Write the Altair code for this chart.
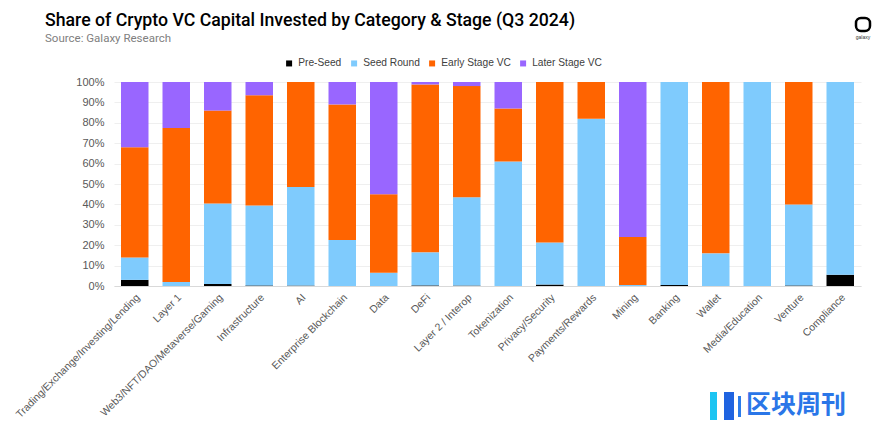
import altair as alt
import pandas as pd

categories = ["Trading/Exchange/Investing/Lending", "Layer 1", "Web3/NFT/DAO/Metaverse/Gaming",
              "Infrastructure", "AI", "Enterprise Blockchain", "Data", "DeFi", "Layer 2 / Interop",
              "Tokenization", "Privacy/Security", "Payments/Rewards", "Mining", "Banking", "Wallet",
              "Media/Education", "Venture", "Compliance"]
stages = ["Pre-Seed", "Seed Round", "Early Stage VC", "Later Stage VC"]
pre_seed = [3.0, 0.0, 1.0, 0.3, 0.2, 0.0, 0.0, 0.3, 0.2, 0.0, 0.7, 0.0, 0.0, 0.5, 0.0, 0.0, 0.3, 5.5]
seed = [11.0, 2.0, 39.5, 39.2, 48.3, 22.5, 6.5, 16.2, 43.3, 61.0, 20.6, 82.0, 0.5, 99.5, 16.0, 100.0, 39.7, 94.5]
early = [54.0, 75.5, 45.5, 54.0, 51.5, 66.5, 38.5, 82.3, 54.5, 26.0, 78.7, 18.0, 23.5, 0.0, 84.0, 0.0, 60.0, 0.0]
later = [32.0, 22.5, 14.0, 6.5, 0.0, 11.0, 55.0, 1.2, 2.0, 13.0, 0.0, 0.0, 76.0, 0.0, 0.0, 0.0, 0.0, 0.0]
colors = ["#000000", "#7FCBFD", "#FF6400", "#9966FF"]

title_text = "Share of Crypto VC Capital Invested by Category & Stage (Q3 2024)"
subtitle_text = "Source: Galaxy Research"

rows = []
for i, c in enumerate(categories):
    for j, (s, vals) in enumerate(zip(stages, [pre_seed, seed, early, later])):
        rows.append({"category": c, "stage": s, "order": j, "value": vals[i] / 100.0})
df = pd.DataFrame(rows)

base_font = "Liberation Sans"

bars = alt.Chart(df).mark_bar(size=27.5).encode(
    x=alt.X("category:N", sort=categories, title=None,
            scale=alt.Scale(paddingInner=0.34, paddingOuter=0.17),
            axis=alt.Axis(labelAngle=-45, labelFont=base_font, labelFontSize=10.5,
                          labelColor="#595959", ticks=False, domainColor="#D9D9D9",
                          labelPadding=6, labelLimit=300)),
    y=alt.Y("value:Q", stack="zero", title=None,
            scale=alt.Scale(domain=[0, 1], nice=False),
            axis=alt.Axis(format="%", values=[i / 10 for i in range(11)], labelFont=base_font,
                          labelFontSize=11, labelColor="#595959", domain=False, ticks=False,
                          gridColor="#EFEFEF", labelPadding=10)),
    color=alt.Color("stage:N", scale=alt.Scale(domain=stages, range=colors),
                    legend=alt.Legend(title=None, orient="none", legendX=170, legendY=-24,
                                      direction="horizontal", symbolType="square", symbolSize=36,
                                      labelFont=base_font, labelFontSize=10.2, labelColor="#404040",
                                      columnPadding=7, labelOffset=4, padding=0,
                                      symbolStrokeWidth=0)),
    order=alt.Order("order:Q", sort="ascending"),
)

one = pd.DataFrame({"t": [title_text], "s": [subtitle_text], "g": ["galaxy"], "w": ["区块周刊"]})

title = alt.Chart(one).mark_text(
    font="Roboto", fontSize=17.7, fontWeight=500, color="#000000", align="left",
    baseline="alphabetic").encode(text="t:N", x=alt.value(-69), y=alt.value(-56))

subtitle = alt.Chart(one).mark_text(
    font="Roboto", fontSize=11.5, color="#808080", align="left",
    baseline="alphabetic").encode(text="s:N", x=alt.value(-69), y=alt.value(-40))

logo_box = alt.Chart(one).mark_rect(
    cornerRadius=5, filled=False, stroke="#000000", strokeWidth=2.5).encode(
    x=alt.value(742), x2=alt.value(756), y=alt.value(-64), y2=alt.value(-51))

logo = alt.Chart(one).mark_text(
    font=base_font, fontSize=5, color="#333333").encode(
    text="g:N", x=alt.value(749), y=alt.value(-45))

wm_bar1 = alt.Chart(one).mark_rect(color="#1CC4F2").encode(
    x=alt.value(596), x2=alt.value(603), y=alt.value(310), y2=alt.value(338))
wm_bar2 = alt.Chart(one).mark_rect(color="#1F63E0").encode(
    x=alt.value(610), x2=alt.value(620), y=alt.value(310), y2=alt.value(338))
wm_bar3 = alt.Chart(one).mark_rect(color="#2B7BEA").encode(
    x=alt.value(624), x2=alt.value(627), y=alt.value(314), y2=alt.value(335))

watermark = alt.Chart(one).mark_text(
    font="Noto Sans CJK SC", fontSize=25, fontWeight="bold", color="#2A76E8", align="left").encode(
    text="w:N", x=alt.value(632), y=alt.value(323))

chart = alt.layer(bars, title, subtitle, logo_box, logo, wm_bar1, wm_bar2, wm_bar3, watermark).properties(
    width=747, height=204,
    autosize=alt.AutoSizeParams(type="none"),
    padding={"left": 114, "top": 82, "right": 26, "bottom": 135},
).configure_view(stroke=None)

chart.save("out.html", embed_options={"renderer": "svg", "actions": False})
